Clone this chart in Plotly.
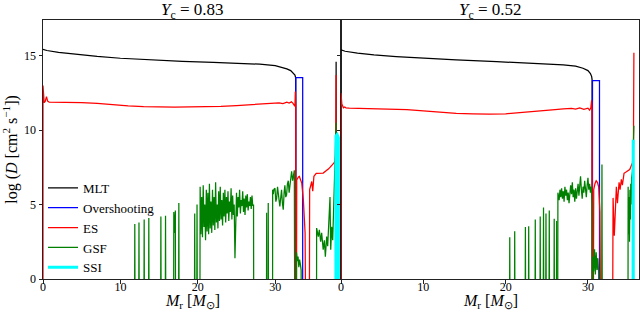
import plotly.graph_objects as go
from plotly.subplots import make_subplots

FLOOR = -10  # negligible mixing (log D far below the plotted range)

PANEL_TITLES = ["<i>Y</i><sub>c</sub> = 0.83", "<i>Y</i><sub>c</sub> = 0.52"]
X_TITLE = "<i>M</i><sub>r</sub> [<i>M</i><sub>⊙</sub>]"
Y_TITLE = "log (<i>D</i> [cm<sup>2</sup> s<sup>−1</sup>])"
SERIES = ["MLT", "Overshooting", "ES", "GSF", "SSI"]
COLORS = {"MLT": "#000000", "Overshooting": "#0000ff", "ES": "#ff0000",
          "GSF": "#008000", "SSI": "#00ffff"}
X_TICKS = [0, 10, 20, 30]
Y_TICKS = [0, 5, 10, 15]

# ---------------- Panel A : Yc = 0.83 ----------------
MLT_A_X = [0, 0.5, 2, 4, 7, 10, 14, 18, 22, 26, 28, 30, 31, 31.5, 32.0, 32.3, 32.55, 32.65, 32.65]
MLT_A_Y = [15.42, 15.35, 15.22, 15.1, 14.95, 14.83, 14.7, 14.62, 14.55, 14.48, 14.43, 14.33, 14.22,
           14.12, 14.0, 13.85, 13.7, 13.5, FLOOR]
MLT_A_SURF_X = [37.87, 37.87]
MLT_A_SURF_Y = [FLOOR, 14.6]

OV_A_X = [32.65, 32.65, 33.55, 33.55]
OV_A_Y = [FLOOR, 13.53, 13.53, FLOOR]

ES_A_X = [0, 0, 0.15, 0.3, 0.45, 0.6, 0.8, 1.5, 3, 5, 7, 9, 11, 13, 15, 17, 19, 21, 23, 25,
          27, 28, 29, 30, 30.5, 31, 31.5, 31.8, 32.1, 32.3, 32.45, 32.55, 32.6, 32.65, 32.68]
ES_A_Y = [FLOOR, 13.0, 11.85, 11.95, 12.25, 11.95, 11.88, 11.88, 11.87, 11.85, 11.8, 11.7, 11.63,
          11.58, 11.55, 11.55, 11.56, 11.57, 11.6, 11.65, 11.72, 11.75, 11.78, 11.8, 11.83, 11.78,
          11.88, 11.82, 11.9, 11.8, 11.7, 11.6, 12.6, 11.6, FLOOR]
ES_A_ENV_X = [32.72, 32.78, 33.0, 33.12, 33.43, 33.64, 33.86, 33.98, 34.02]
ES_A_ENV_Y = [FLOOR, 6.66, 6.85, 6.89, 6.44, 5.3, 3.1, 0.5, FLOOR]
ES_A_OUT_X = [34.38, 34.45, 34.6, 34.72, 34.85, 35.0, 35.3, 36.2, 36.9, 37.3, 37.6, 37.74, 37.82, 37.87]
ES_A_OUT_Y = [FLOOR, 6.0, 6.3, 6.55, 5.9, 6.9, 7.1, 7.12, 7.4, 7.6, 7.8, 7.95, 8.4, 13.7]

GSF_A_SPIKE_X = [11.86, 12.4, 13.07, 13.67, 15.23, 15.83, 17.55, 19.6, 19.9, 28.9, 29.1]
GSF_A_SPIKE_TOP = [3.7, 3.8, 4.0, 4.1, 4.2, 4.25, 5.1, 4.4, 5.0, 4.45, 5.1]
GSF_A_B1_X = [16.85, 16.9, 17.0, 17.1, 17.15]
GSF_A_B1_Y = [FLOOR, 4.5, 3.1, 4.6, FLOOR]
GSF_A_MAIN_X = [20.25, 20.3, 20.4, 20.5, 20.6, 20.7, 20.8, 20.9, 21.0, 21.1, 21.2, 21.3, 21.4, 21.5,
                21.6, 21.7, 21.8, 21.9, 22.0, 22.1, 22.2, 22.3, 22.4, 22.5, 22.6, 22.7, 22.8, 22.9,
                23.0, 23.1, 23.2, 23.3, 23.4, 23.5, 23.6, 23.7, 23.8, 23.9, 24.0, 24.1, 24.2, 24.3,
                24.4, 24.5, 24.6, 24.7, 24.8, 24.9, 25.0, 25.1, 25.2, 25.3, 25.4, 25.5, 25.6, 25.7,
                25.8, 25.9, 26.0, 26.1, 26.2, 26.3, 26.4, 26.5, 26.6, 26.7, 26.8, 26.9, 27.0, 27.1,
                27.2, 27.25]
GSF_A_MAIN_Y = [FLOOR, 6.2, 3.0, 5.5, 2.8, 6.3, 3.5, 5.0, 2.6, 6.0, 3.2, 5.8, 3.0, 6.4,
                3.4, 5.2, 3.1, 6.0, 3.6, 5.5, 3.3, 6.5, 3.8, 5.0, 3.4, 5.9, 3.9, 6.2,
                4.0, 5.3, 3.6, 5.8, 4.2, 6.0, 3.8, 5.5, 4.4, 5.9, 3.9, 5.2, 4.5, 6.1,
                4.0, 5.6, 4.3, 5.0, 1.4, 4.6, 5.8, 4.2, 5.5, 4.8, 6.0, 4.4, 5.3, 4.9,
                5.9, 4.5, 5.4, 4.3, 5.6, 4.8, 5.7, 4.6, 5.2, 4.9, 5.5, 4.7, 5.6, 4.9,
                5.0, FLOOR]
GSF_A_CORE_X = [29.65, 29.67, 29.75, 29.84, 29.97, 30.08, 30.18, 30.3, 30.4, 30.5, 30.6, 30.7,
                30.82, 30.93, 31.04, 31.15, 31.25, 31.36, 31.47, 31.58, 31.69, 31.8, 31.9, 32.0,
                32.12, 32.25, 32.36, 32.47, 32.56]
GSF_A_CORE_Y = [FLOOR, 6.0, 5.7, 6.03, 6.1, 5.2, 5.4, 6.2, 5.9, 5.3, 4.87, 5.6,
                6.0, 5.1, 4.65, 5.8, 6.3, 5.5, 5.66, 6.4, 6.6, 5.8, 6.2, 6.9,
                7.24, 6.6, 6.9, 7.3, FLOOR]
GSF_A_LOW_X = [32.7, 32.75, 32.85, 32.95, 33.05, 33.15, 33.25, 33.35, 33.4]
GSF_A_LOW_Y = [FLOOR, 1.8, 1.2, 1.5, 0.8, 1.3, 1.0, 0.6, FLOOR]
GSF_A_SURF_X = [35.33, 35.35, 35.57, 35.7, 35.87, 36.0, 36.2, 36.35, 36.48, 36.65, 36.78, 36.91,
                37.08, 37.17, 37.3, 37.43, 37.5, 37.64, 37.72, 37.87]
GSF_A_SURF_Y = [FLOOR, 3.42, 2.85, 3.3, 2.5, 3.1, 1.97, 2.6, 1.5, 2.85, 2.2, 3.3,
                5.5, 1.97, 3.5, 2.6, 4.2, 6.4, 8.7, 10.5]

SSI_A_X = [37.83, 37.85, 38.0, 38.16, 38.18]
SSI_A_Y = [FLOOR, 9.6, 9.7, 9.5, FLOOR]

# ---------------- Panel B : Yc = 0.52 ----------------
MLT_B_X = [0, 0.5, 2, 4, 6.7, 10, 14, 18.9, 23, 27, 28.5, 29.4, 30.0, 30.3, 30.45, 30.5, 30.52]
MLT_B_Y = [15.39, 15.3, 15.18, 15.05, 14.94, 14.83, 14.72, 14.6, 14.5, 14.38, 14.3, 14.16, 14.0,
           13.8, 13.6, 13.4, FLOOR]

OV_B_X = [30.55, 30.55, 31.4, 31.4]
OV_B_Y = [FLOOR, 13.33, 13.33, FLOOR]

ES_B_X = [0, 0, 0.1, 0.3, 0.45, 0.6, 1, 2, 4, 6, 8, 10, 12, 14, 16, 18, 20, 22, 24, 26, 27, 28,
          28.5, 29, 29.5, 30, 30.2, 30.35, 30.45, 30.5, 30.55]
ES_B_Y = [FLOOR, 12.5, 11.75, 11.5, 11.55, 11.5, 11.48, 11.47, 11.46, 11.45, 11.38, 11.3, 11.2,
          11.13, 11.1, 11.07, 11.1, 11.18, 11.28, 11.38, 11.43, 11.47, 11.42, 11.5, 11.4, 11.48,
          11.35, 11.5, 12.0, 11.4, FLOOR]
ES_B_ENV_X = [30.62, 30.7, 30.85, 31.0, 31.15, 31.3, 31.45, 31.55, 31.62]
ES_B_ENV_Y = [FLOOR, 6.0, 6.4, 6.6, 6.5, 6.2, 4.5, 1.5, FLOOR]
ES_B_OUT_X = [32.95, 33.05, 33.2, 33.45, 33.58, 33.78, 33.9, 34.06, 34.18, 34.38, 34.67, 35.07,
              35.4, 35.52, 35.58]
ES_B_OUT_Y = [FLOOR, 5.45, 2.9, 6.2, 5.1, 6.5, 6.0, 6.7, 6.3, 7.1, 7.2, 7.35, 7.8, 8.5, 15.2]

GSF_B_SPIKE_X = [20.5, 21.1, 22.4, 22.8, 23.6, 24.2, 24.6, 24.9, 25.3, 25.9, 26.2, 31.7]
GSF_B_SPIKE_TOP = [2.8, 3.2, 3.5, 3.55, 4.0, 4.2, 4.8, 4.4, 4.6, 4.05, 3.9, 7.7]
GSF_B_CORE_X = [26.3, 26.35, 26.5, 26.6, 26.7, 26.8, 26.9, 27.0, 27.1, 27.2, 27.3, 27.4, 27.5,
                27.6, 27.7, 27.8, 27.9, 28.0, 28.1, 28.2, 28.3, 28.4, 28.5, 28.6, 28.7, 28.8,
                28.9, 29.0, 29.1, 29.2, 29.3, 29.4, 29.5, 29.6, 29.7, 29.8, 29.9, 30.0, 30.1,
                30.2, 30.3, 30.4, 30.5, 30.55]
GSF_B_CORE_Y = [FLOOR, 5.8, 5.3, 6.0, 5.5, 6.1, 5.4, 5.9, 5.2, 6.2, 5.6, 6.0, 5.3,
                5.8, 5.1, 5.6, 6.3, 5.7, 6.5, 5.5, 6.0, 5.2, 6.1, 5.4, 5.9, 6.4,
                5.6, 6.6, 6.9, 6.0, 5.4, 6.2, 5.8, 6.6, 5.9, 5.5, 6.3, 6.8, 6.0,
                6.4, 5.8, 6.2, 5.0, FLOOR]
GSF_B_LOW_X = [30.58, 30.62, 30.7, 30.8, 30.9, 31.0, 31.1, 31.2, 31.3, 31.38]
GSF_B_LOW_Y = [FLOOR, 1.5, 0.5, 2.0, 0.3, 1.8, 0.6, 1.4, 0.4, FLOOR]
GSF_B_SURF_X = [34.85, 34.88, 34.95, 35.0, 35.05, 35.1, 35.15, 35.2, 35.25, 35.3, 35.4, 35.5, 35.58]
GSF_B_SURF_Y = [FLOOR, 6.2, 3.0, 5.5, 2.5, 6.0, 4.0, 6.4, 5.0, 6.8, 7.2, 8.5, 10.3]

SSI_B_X = [35.46, 35.47, 35.5, 35.51]
SSI_B_Y = [FLOOR, 9.3, 9.35, FLOOR]

X_RANGES = [[0, 38.5], [0, 36.2]]
Y_RANGE = [0, 17.4]


def join(*segments):
    xs, ys = [], []
    for sx, sy in segments:
        if xs:
            xs.append(None)
            ys.append(None)
        xs.extend(sx)
        ys.extend(sy)
    return xs, ys


def spikes(xs, tops, half=0.07):
    segs = []
    for x, t in zip(xs, tops):
        segs.append(([x - half, x, x + half], [FLOOR, t, FLOOR]))
    return segs


panel_data = [
    {
        "MLT": join((MLT_A_X, MLT_A_Y), (MLT_A_SURF_X, MLT_A_SURF_Y)),
        "Overshooting": join((OV_A_X, OV_A_Y)),
        "ES": join((ES_A_X, ES_A_Y), (ES_A_ENV_X, ES_A_ENV_Y), (ES_A_OUT_X, ES_A_OUT_Y)),
        "GSF": join(*spikes(GSF_A_SPIKE_X, GSF_A_SPIKE_TOP), (GSF_A_B1_X, GSF_A_B1_Y),
                    (GSF_A_MAIN_X, GSF_A_MAIN_Y), (GSF_A_CORE_X, GSF_A_CORE_Y),
                    (GSF_A_LOW_X, GSF_A_LOW_Y), (GSF_A_SURF_X, GSF_A_SURF_Y)),
        "SSI": join((SSI_A_X, SSI_A_Y)),
    },
    {
        "MLT": join((MLT_B_X, MLT_B_Y)),
        "Overshooting": join((OV_B_X, OV_B_Y)),
        "ES": join((ES_B_X, ES_B_Y), (ES_B_ENV_X, ES_B_ENV_Y), (ES_B_OUT_X, ES_B_OUT_Y)),
        "GSF": join(*spikes(GSF_B_SPIKE_X, GSF_B_SPIKE_TOP), (GSF_B_CORE_X, GSF_B_CORE_Y),
                    (GSF_B_LOW_X, GSF_B_LOW_Y), (GSF_B_SURF_X, GSF_B_SURF_Y)),
        "SSI": join((SSI_B_X, SSI_B_Y)),
    },
]

FONT = "Liberation Serif"
AX_COLOR = "#222222"

fig = make_subplots(rows=1, cols=2, shared_yaxes=True, horizontal_spacing=0,
                    subplot_titles=PANEL_TITLES)

for col, data in enumerate(panel_data, start=1):
    for name in SERIES:
        xs, ys = data[name]
        fig.add_trace(go.Scatter(
            x=xs, y=ys, mode="lines", name=name, legendgroup=name,
            showlegend=(col == 1),
            line=dict(color=COLORS[name], width=3 if name == "SSI" else 1.25),
            hoverinfo="skip",
        ), row=1, col=col)

for col in (1, 2):
    fig.update_xaxes(range=X_RANGES[col - 1], tickvals=X_TICKS, ticks="outside", ticklen=3.5,
                     tickcolor=AX_COLOR, showline=True, linecolor=AX_COLOR, linewidth=1,
                     mirror=True, showgrid=False, zeroline=False, automargin=False,
                     ticklabelstandoff=-7,
                     tickfont=dict(family=FONT, size=12, color="#000"),
                     row=1, col=col)
    fig.update_yaxes(range=Y_RANGE, tickvals=Y_TICKS, ticks="outside", ticklen=3.5,
                     tickcolor=AX_COLOR, showline=True, linecolor=AX_COLOR, linewidth=1,
                     mirror=True, showgrid=False, zeroline=False, automargin=False,
                     tickfont=dict(family=FONT, size=12, color="#000"),
                     row=1, col=col)

fig.update_yaxes(title=dict(text=Y_TITLE, font=dict(family=FONT, size=16, color="#000")),
                 row=1, col=1)
fig.update_yaxes(showticklabels=False, row=1, col=2)

for ann in fig.layout.annotations:
    ann.font = dict(family=FONT, size=17, color="#000")
    ann.yshift = -4

# x-axis titles as annotations centred under each panel
for dom in (fig.layout.xaxis.domain, fig.layout.xaxis2.domain):
    fig.add_annotation(text=X_TITLE, xref="paper", yref="paper",
                       x=(dom[0] + dom[1]) / 2, y=-0.088, xanchor="center", yanchor="middle",
                       showarrow=False, font=dict(family=FONT, size=16, color="#000"))

fig.update_layout(
    width=644, height=319,
    margin=dict(l=43, r=5, t=20, b=40, autoexpand=False),
    paper_bgcolor="white", plot_bgcolor="white",
    font=dict(family=FONT, color="#000"),
    legend=dict(x=0.0, y=0.41, xanchor="left", yanchor="top",
                bgcolor="rgba(0,0,0,0)", font=dict(family=FONT, size=13, color="#000"),
                tracegroupgap=0, itemwidth=30),
    showlegend=True,
)

fig.write_html("out.html", post_script="document.body.style.margin='0px';",
               config={"displayModeBar": False})
